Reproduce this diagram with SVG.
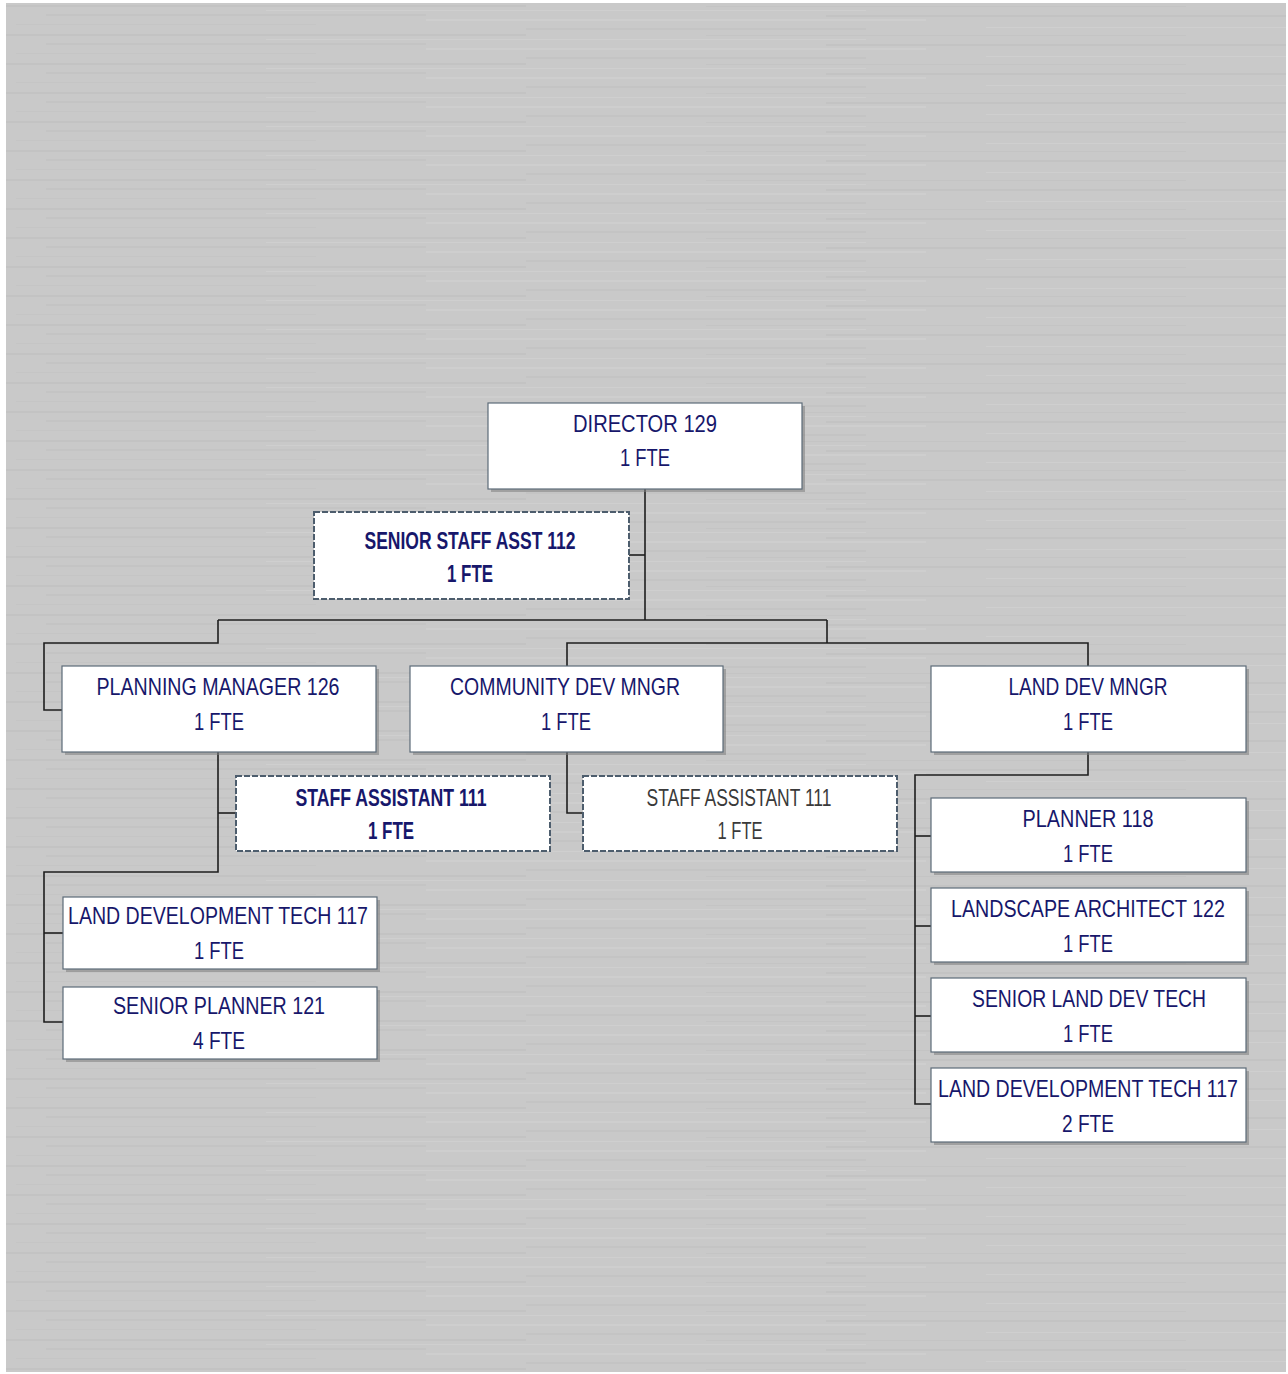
<svg xmlns="http://www.w3.org/2000/svg" width="1288" height="1374" viewBox="0 0 1288 1374">
<defs>
<pattern id="brush" x="6" y="3" width="1280" height="29" patternUnits="userSpaceOnUse">
<rect width="1280" height="29" fill="#c9c9c9"/>
<rect x="0" y="2" width="520" height="2" fill="#c3c3c3"/>
<rect x="700" y="3" width="480" height="1" fill="#c4c4c4"/>
<rect x="260" y="7" width="600" height="1" fill="#cfcfcf"/>
<rect x="40" y="11" width="380" height="2" fill="#c4c4c4"/>
<rect x="820" y="12" width="460" height="2" fill="#c3c3c3"/>
<rect x="420" y="16" width="500" height="2" fill="#cecece"/>
<rect x="10" y="21" width="300" height="1" fill="#c5c5c5"/>
<rect x="980" y="24" width="300" height="1" fill="#cfcfcf"/>
<rect x="520" y="25" width="340" height="2" fill="#c4c4c4"/>
</pattern>
</defs>
<style>
.box{fill:#ffffff;stroke:#5c6b78;stroke-width:1.2}
.dbox{fill:#ffffff;stroke:#4d5d6d;stroke-width:2;stroke-dasharray:6 2}
.sh{fill:#7d7d7d;opacity:0.55}
.t{font-family:"Liberation Sans",Arial,sans-serif;font-size:24px;fill:#17176b;text-anchor:middle}
.b{font-weight:bold}
.g{fill:#3a3a3a}
.conn{fill:none;stroke:#1e1e1e;stroke-width:1.6}
</style>
<rect x="0" y="0" width="1288" height="1374" fill="#ffffff"/>
<rect x="6" y="3" width="1280" height="1369" fill="url(#brush)"/>

<g id="connectors" class="conn">
<path d="M645 489 V620"/>
<path d="M629 555 H645"/>
<path d="M218 620 H827"/>
<path d="M218 620 V643 H44 V710 H62"/>
<path d="M827 620 V643"/>
<path d="M567 666 V643 H1088 V666"/>
<path d="M218 752 V872 H44 V1022 H63"/>
<path d="M218 813 H236"/>
<path d="M44 933 H63"/>
<path d="M567 752 V813 H583"/>
<path d="M1088 752 V775 H915 V1104 H931"/>
<path d="M915 836 H931"/>
<path d="M915 926 H931"/>
<path d="M915 1016 H931"/>
</g>

<g id="director">
<rect class="sh" x="491" y="406" width="314" height="86"/>
<rect class="box" x="488" y="403" width="314" height="86"/>
<text class="t" x="645" y="432" textLength="144" lengthAdjust="spacingAndGlyphs">DIRECTOR 129</text>
<text class="t" x="645" y="466" textLength="50" lengthAdjust="spacingAndGlyphs">1 FTE</text>
</g>

<g id="senior-staff-asst">
<rect class="dbox" x="314" y="512" width="315" height="87"/>
<text class="t b" x="470" y="549" textLength="211" lengthAdjust="spacingAndGlyphs">SENIOR STAFF ASST 112</text>
<text class="t b" x="470" y="582" textLength="46" lengthAdjust="spacingAndGlyphs">1 FTE</text>
</g>

<g id="planning-manager">
<rect class="sh" x="65" y="669" width="314" height="86"/>
<rect class="box" x="62" y="666" width="314" height="86"/>
<text class="t" x="218" y="695" textLength="243" lengthAdjust="spacingAndGlyphs">PLANNING MANAGER 126</text>
<text class="t" x="219" y="730" textLength="50" lengthAdjust="spacingAndGlyphs">1 FTE</text>
</g>

<g id="community-dev-mngr">
<rect class="sh" x="413" y="669" width="313" height="86"/>
<rect class="box" x="410" y="666" width="313" height="86"/>
<text class="t" x="565" y="695" textLength="230" lengthAdjust="spacingAndGlyphs">COMMUNITY DEV MNGR</text>
<text class="t" x="566" y="730" textLength="50" lengthAdjust="spacingAndGlyphs">1 FTE</text>
</g>

<g id="land-dev-mngr">
<rect class="sh" x="934" y="669" width="315" height="86"/>
<rect class="box" x="931" y="666" width="315" height="86"/>
<text class="t" x="1088" y="695" textLength="159" lengthAdjust="spacingAndGlyphs">LAND DEV MNGR</text>
<text class="t" x="1088" y="730" textLength="50" lengthAdjust="spacingAndGlyphs">1 FTE</text>
</g>

<g id="staff-assistant-pm">
<rect class="dbox" x="236" y="776" width="314" height="75"/>
<text class="t b" x="391" y="806" textLength="191" lengthAdjust="spacingAndGlyphs">STAFF ASSISTANT 111</text>
<text class="t b" x="391" y="839" textLength="46" lengthAdjust="spacingAndGlyphs">1 FTE</text>
</g>

<g id="staff-assistant-cd">
<rect class="dbox" x="583" y="776" width="314" height="75"/>
<text class="t g" x="739" y="806" textLength="185" lengthAdjust="spacingAndGlyphs">STAFF ASSISTANT 111</text>
<text class="t g" x="740" y="839" textLength="45" lengthAdjust="spacingAndGlyphs">1 FTE</text>
</g>

<g id="land-development-tech-1">
<rect class="sh" x="66" y="900" width="314" height="72"/>
<rect class="box" x="63" y="897" width="314" height="72"/>
<text class="t" x="218" y="924" textLength="300" lengthAdjust="spacingAndGlyphs">LAND DEVELOPMENT TECH 117</text>
<text class="t" x="219" y="959" textLength="50" lengthAdjust="spacingAndGlyphs">1 FTE</text>
</g>

<g id="senior-planner">
<rect class="sh" x="66" y="990" width="314" height="72"/>
<rect class="box" x="63" y="987" width="314" height="72"/>
<text class="t" x="219" y="1014" textLength="212" lengthAdjust="spacingAndGlyphs">SENIOR PLANNER 121</text>
<text class="t" x="219" y="1049" textLength="52" lengthAdjust="spacingAndGlyphs">4 FTE</text>
</g>

<g id="planner-118">
<rect class="sh" x="934" y="801" width="315" height="74"/>
<rect class="box" x="931" y="798" width="315" height="74"/>
<text class="t" x="1088" y="827" textLength="131" lengthAdjust="spacingAndGlyphs">PLANNER 118</text>
<text class="t" x="1088" y="862" textLength="50" lengthAdjust="spacingAndGlyphs">1 FTE</text>
</g>

<g id="landscape-architect">
<rect class="sh" x="934" y="891" width="315" height="74"/>
<rect class="box" x="931" y="888" width="315" height="74"/>
<text class="t" x="1088" y="917" textLength="274" lengthAdjust="spacingAndGlyphs">LANDSCAPE ARCHITECT 122</text>
<text class="t" x="1088" y="952" textLength="50" lengthAdjust="spacingAndGlyphs">1 FTE</text>
</g>

<g id="senior-land-dev-tech">
<rect class="sh" x="934" y="981" width="315" height="74"/>
<rect class="box" x="931" y="978" width="315" height="74"/>
<text class="t" x="1089" y="1007" textLength="234" lengthAdjust="spacingAndGlyphs">SENIOR LAND DEV TECH</text>
<text class="t" x="1088" y="1042" textLength="50" lengthAdjust="spacingAndGlyphs">1 FTE</text>
</g>

<g id="land-development-tech-2">
<rect class="sh" x="934" y="1071" width="315" height="74"/>
<rect class="box" x="931" y="1068" width="315" height="74"/>
<text class="t" x="1088" y="1097" textLength="300" lengthAdjust="spacingAndGlyphs">LAND DEVELOPMENT TECH 117</text>
<text class="t" x="1088" y="1132" textLength="52" lengthAdjust="spacingAndGlyphs">2 FTE</text>
</g>
</svg>
